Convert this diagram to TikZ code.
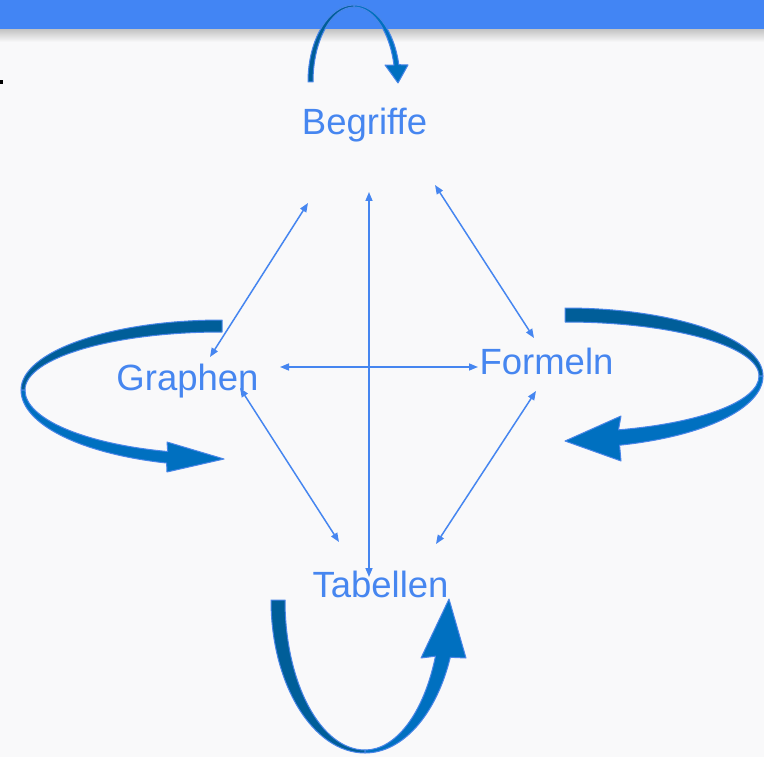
\documentclass[tikz,border=0pt]{standalone}
\usepackage{fontspec}
\setmainfont[Ligatures=NoCommon]{Liberation Sans}
\usetikzlibrary{arrows.meta}

\definecolor{barblue}{RGB}{66,133,244}
\definecolor{textblue}{RGB}{70,134,240}
\definecolor{ribdark}{RGB}{0,94,153}
\definecolor{riblight}{RGB}{0,112,192}
\definecolor{ribedge}{RGB}{74,134,232}
\definecolor{pagebg}{RGB}{249,249,250}

\begin{document}
\begin{tikzpicture}[x=1pt,y=-1pt,
  term/.style={anchor=base,text=textblue,inner sep=0pt,font=\fontsize{36.5}{40}\selectfont},
  link/.style={draw=textblue,line width=1.5pt,{Triangle[length=9pt,width=7pt]}-{Triangle[length=9pt,width=7pt]}},
  ribback/.style={fill=ribdark,draw=ribedge,line width=1pt,line join=round},
  ribfront/.style={fill=riblight,draw=ribedge,line width=1pt,line join=round}]
  \useasboundingbox (0,0) rectangle (764,757);
  \fill[pagebg] (0,0) rectangle (764,757);

  % title bar
  \fill[barblue] (0,0) rectangle (764,30);
  \shade[top color=black!22,bottom color=pagebg] (0,30) rectangle (764,42);
  \fill[black] (0,80) rectangle (3,84);

  \node[term] (begriffe) at (364.5,135) {Begriffe};
  \node[term] (graphen) at (187.5,390) {Graphen};
  \node[term] (formeln) at (546.5,374) {Formeln};
  \node[term] (tabellen) at (380.5,597) {Tabellen};

  \draw[link] ([shift={(-56.5,68)}]begriffe.base) -- ([shift={(22.5,-33)}]graphen.base);
  \draw[link] ([shift={(70.5,50)}]begriffe.base) -- ([shift={(-12.5,-36)}]formeln.base);
  \draw[link] ([shift={(4.5,57)}]begriffe.base) -- ([shift={(-11.5,-20)}]tabellen.base);
  \draw[link] ([shift={(92.5,-23)}]graphen.base) -- ([shift={(-68.5,-7)}]formeln.base);
  \draw[link] ([shift={(52.5,-2)}]graphen.base) -- ([shift={(-41.5,-55)}]tabellen.base);
  \draw[link] ([shift={(-10.5,17)}]formeln.base) -- ([shift={(55.5,-53)}]tabellen.base);

  % loop over Begriffe
  \draw[ribback] (308,82) arc[start angle=180,end angle=270,x radius=46,y radius=77]
    -- (354,7) arc[start angle=270,end angle=180,x radius=41,y radius=75] -- cycle;
  \draw[ribfront] (354,5) arc[start angle=270,end angle=347,x radius=46,y radius=77]
    -- (408,65) -- (398,83) -- (385,65)
    -- ([shift={(354,82)}]347:41 and 75) arc[start angle=347,end angle=270,x radius=41,y radius=75] -- cycle;

  % loop round Graphen
  \draw[ribback] (222,320) arc[start angle=270,end angle=180,x radius=201,y radius=70]
    -- (25,390) arc[start angle=180,end angle=270,x radius=197,y radius=58] -- cycle;
  \draw[ribfront] (21,390) arc[start angle=180,end angle=106,x radius=201,y radius=76]
    -- (167,472) -- (224,459) -- (167,442)
    -- ([shift={(222,390)}]106:197 and 64) arc[start angle=106,end angle=180,x radius=197,y radius=64] -- cycle;

  % loop round Formeln
  \draw[ribback] (565,308) arc[start angle=270,end angle=360,x radius=198,y radius=68]
    -- (759,376) arc[start angle=360,end angle=270,x radius=194,y radius=54] -- cycle;
  \draw[ribfront] (763,376) arc[start angle=0,end angle=74,x radius=198,y radius=72]
    -- (621,461) -- (565,441) -- (621,416)
    -- ([shift={(565,376)}]74:194 and 56) arc[start angle=74,end angle=0,x radius=194,y radius=56] -- cycle;

  % loop under Tabellen
  \draw[ribback] (271,600) arc[start angle=180,end angle=90,x radius=94,y radius=153]
    -- (365,750) arc[start angle=90,end angle=180,x radius=80,y radius=150] -- cycle;
  \draw[ribfront] (365,753) arc[start angle=90,end angle=22,x radius=92,y radius=153]
    -- (466,658) -- (449,599) -- (421,658)
    -- ([shift={(365,600)}]22:76 and 150) arc[start angle=22,end angle=90,x radius=76,y radius=150] -- cycle;
\end{tikzpicture}
\end{document}
